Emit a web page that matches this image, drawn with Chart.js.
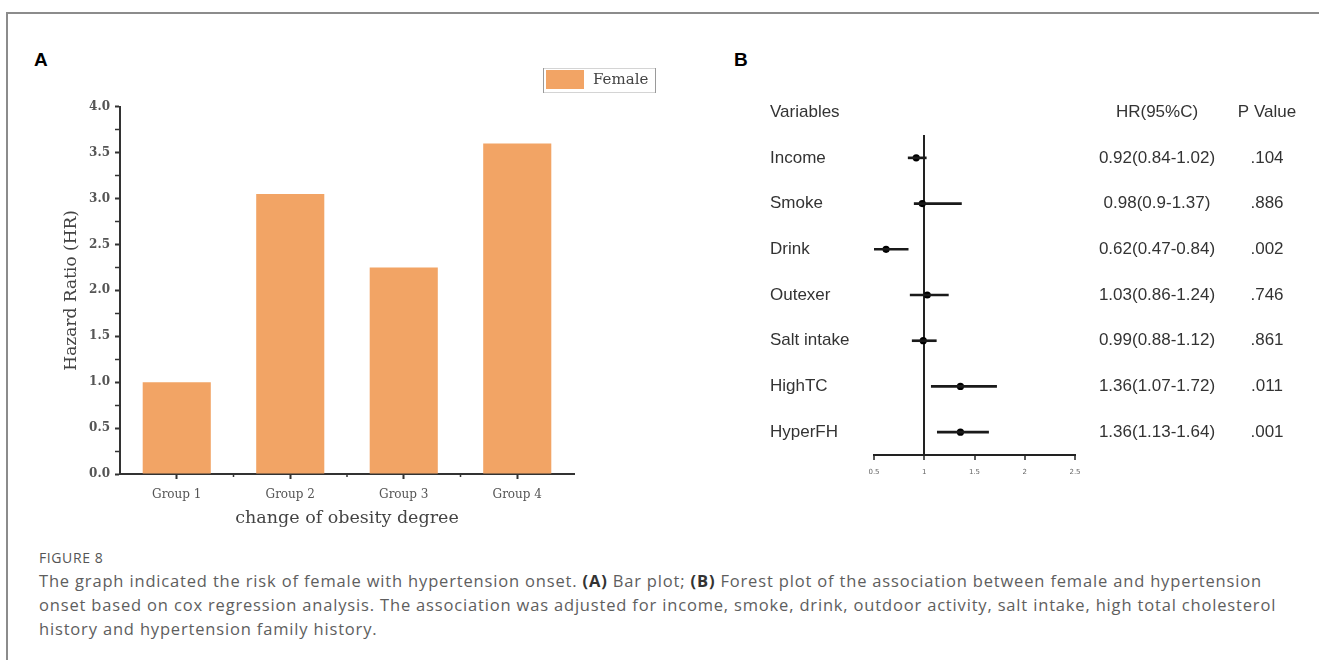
<!DOCTYPE html>
<html>
<head>
<meta charset="utf-8">
<script src="https://cdn.jsdelivr.net/npm/chart.js@4/dist/chart.umd.min.js"></script>
<style>
  html, body { margin: 0; padding: 0; background: #fff; }
  body { width: 1319px; height: 660px; position: relative; overflow: hidden; font-family: "Open Sans", "Noto Sans", sans-serif; }
  .frame { position: absolute; left: 6px; top: 12px; width: 1330px; height: 670px; border-left: 2px solid #8c8c8c; border-top: 2px solid #8c8c8c; }
  .tag { position: absolute; font: bold 19px "Liberation Sans", Arial, sans-serif; color: #000; line-height: 19px; }
  #barWrap { position: absolute; left: 0; top: 60px; width: 700px; height: 480px; }
  #forestWrap { position: absolute; left: 720px; top: 90px; width: 599px; height: 410px; }
  .fig { position: absolute; left: 39px; top: 548px; font-size: 14px; line-height: 20px; color: #555; letter-spacing: 0.6px; }
  .cap { position: absolute; left: 39px; font-size: 16.5px; line-height: 24px; color: #5e5e5e; white-space: nowrap; }
  .cap b { color: #333; }
</style>
</head>
<body>
<div class="frame"></div>
<div class="tag" style="left:34px; top:50px;">A</div>
<div class="tag" style="left:734px; top:50px;">B</div>

<div id="barWrap"><canvas id="barChart" width="700" height="480"></canvas></div>
<div id="forestWrap"><canvas id="forestChart" width="599" height="410"></canvas></div>

<div class="fig">FIGURE 8</div>
<div class="cap" id="cap1" style="top:569px;">The graph indicated the risk of female with hypertension onset. <b>(A)</b> Bar plot; <b>(B)</b> Forest plot of the association between female and hypertension</div>
<div class="cap" id="cap2" style="top:593px;">onset based on cox regression analysis. The association was adjusted for income, smoke, drink, outdoor activity, salt intake, high total cholesterol</div>
<div class="cap" id="cap3" style="top:617px;">history and hypertension family history.</div>

<script>
// ---- Panel A: hazard ratio by obesity-change group ----
const groups = ['Group 1', 'Group 2', 'Group 3', 'Group 4'];
const femaleHR = [1.0, 3.05, 2.25, 3.6];
const seriesName = 'Female';
const barColor = '#F2A465';

// ---- Panel B: Cox regression forest plot ----
const variables = ['Income', 'Smoke', 'Drink', 'Outexer', 'Salt intake', 'HighTC', 'HyperFH'];
const hr = [0.92, 0.98, 0.62, 1.03, 0.99, 1.36, 1.36];
const ciLow = [0.84, 0.9, 0.47, 0.86, 0.88, 1.07, 1.13];
const ciHigh = [1.02, 1.37, 0.84, 1.24, 1.12, 1.72, 1.64];
const pValues = ['.104', '.886', '.002', '.746', '.861', '.011', '.001'];
const columnHeaders = ['Variables', 'HR(95%C)', 'P Value'];

// caption: spread the letters so the first line fills the text column
(function fitCaption() {
  const first = document.getElementById('cap1');
  const target = 1223;
  const w = first.getBoundingClientRect().width;
  const n = first.textContent.length;
  const ls = Math.max(0, (target - w) / n);
  ['cap1', 'cap2', 'cap3'].forEach(id => { document.getElementById(id).style.letterSpacing = ls + 'px'; });
})();

const serif = '"DejaVu Serif", "Liberation Serif", serif';
const axisInk = '#333';

// small ticks between the category ticks on the x axis
const minorCategoryTicks = {
  id: 'minorCategoryTicks',
  afterDraw(chart) {
    const x = chart.scales.x, ctx = chart.ctx;
    const yAxis = chart.chartArea.bottom;
    ctx.save();
    ctx.strokeStyle = axisInk;
    ctx.lineWidth = 1.5;
    for (let i = 0; i < groups.length - 1; i++) {
      const px = (x.getPixelForValue(i) + x.getPixelForValue(i + 1)) / 2;
      ctx.beginPath();
      ctx.moveTo(px, yAxis);
      ctx.lineTo(px, yAxis + 3);
      ctx.stroke();
    }
    ctx.restore();
  }
};

// boxed legend in the upper right corner
const boxedLegend = {
  id: 'boxedLegend',
  afterDraw(chart) {
    const ctx = chart.ctx;
    const ds = chart.data.datasets[0];
    ctx.save();
    ctx.strokeStyle = '#d4d4d4';
    ctx.lineWidth = 1;
    ctx.strokeRect(543.5, 8.5, 112, 24);
    ctx.strokeStyle = '#9a9a9a';
    ctx.beginPath();
    ctx.moveTo(543.5, 8); ctx.lineTo(543.5, 33);
    ctx.moveTo(655.5, 8); ctx.lineTo(655.5, 33);
    ctx.stroke();
    ctx.fillStyle = ds.backgroundColor;
    ctx.fillRect(546, 10, 38, 19);
    ctx.fillStyle = '#444';
    ctx.font = '15px ' + serif;
    ctx.textBaseline = 'middle';
    ctx.fillText(ds.label, 593, 20);
    ctx.restore();
  }
};

new Chart(document.getElementById('barChart'), {
  type: 'bar',
  data: {
    labels: groups,
    datasets: [{
      label: seriesName,
      data: femaleHR,
      backgroundColor: barColor,
      borderWidth: 0,
      categoryPercentage: 1.0,
      barPercentage: 0.6
    }]
  },
  options: {
    responsive: false,
    animation: false,
    layout: { padding: { top: 46.7, right: 126, left: 0, bottom: 0 } },
    plugins: { legend: { display: false }, tooltip: { enabled: false } },
    scales: {
      x: {
        type: 'category',
        afterFit(s) { s.height = 66; },
        grid: { offset: false, drawOnChartArea: false, drawTicks: true, tickLength: 5, tickColor: axisInk, tickWidth: 2 },
        border: { display: true, color: axisInk, width: 2 },
        ticks: { font: { family: serif, size: 12 }, color: '#555', padding: 9 },
        title: { display: true, text: 'change of obesity degree', font: { family: serif, size: 17.5 }, color: '#444', padding: { top: 0, bottom: 11 } }
      },
      y: {
        min: 0, max: 4,
        afterFit(s) { s.width = 120; },
        grid: {
          drawOnChartArea: false, drawTicks: true, tickLength: 5, tickColor: axisInk,
          tickWidth: (c) => (c.tick && Math.abs(c.tick.value * 2 - Math.round(c.tick.value * 2)) < 1e-6) ? 2 : 1.5
        },
        border: { display: true, color: axisInk, width: 2 },
        ticks: {
          stepSize: 0.25, autoSkip: false, padding: 5,
          font: { family: serif, size: 12, weight: 'bold' }, color: '#555',
          callback: (v) => Math.abs(v * 2 - Math.round(v * 2)) < 1e-6 ? Number(v).toFixed(1) : ''
        },
        title: { display: true, text: 'Hazard Ratio (HR)', font: { family: serif, size: 17 }, color: '#444', padding: { top: 61, bottom: 0 } }
      }
    }
  },
  plugins: [minorCategoryTicks, boxedLegend]
});

// text columns of the forest plot, aligned to the row positions
const forestTable = {
  id: 'forestTable',
  afterDraw(chart) {
    const ctx = chart.ctx, y = chart.scales.y;
    const rowY = (i) => y.getPixelForValue(i);
    const step = rowY(1) - rowY(0);
    const colVar = 50, colHR = 437, colP = 547;
    ctx.save();
    ctx.font = '17px "Liberation Sans", Arial, sans-serif';
    ctx.fillStyle = '#333';
    ctx.textBaseline = 'middle';
    const headY = rowY(0) - step;
    ctx.textAlign = 'left';  ctx.fillText(columnHeaders[0], colVar, headY);
    ctx.textAlign = 'center'; ctx.fillText(columnHeaders[1], colHR, headY);
    ctx.fillText(columnHeaders[2], colP, headY);
    variables.forEach((name, i) => {
      const yy = rowY(i);
      ctx.textAlign = 'left';
      ctx.fillText(name, colVar, yy);
      ctx.textAlign = 'center';
      ctx.fillText(`${hr[i]}(${ciLow[i]}-${ciHigh[i]})`, colHR, yy);
      ctx.fillText(pValues[i], colP, yy);
    });
    ctx.restore();
  }
};

new Chart(document.getElementById('forestChart'), {
  type: 'bar',
  data: {
    labels: variables,
    datasets: [
      {
        type: 'bar',
        data: ciLow.map((lo, i) => [lo, ciHigh[i]]),
        backgroundColor: '#1a1a1a',
        borderWidth: 0,
        barThickness: 2
      },
      {
        type: 'scatter',
        data: hr.map((v, i) => ({ x: v, y: variables[i] })),
        pointRadius: 3.6,
        pointBackgroundColor: '#000',
        pointBorderWidth: 0,
        showLine: false
      }
    ]
  },
  options: {
    indexAxis: 'y',
    responsive: false,
    animation: false,
    layout: { padding: { left: 154, right: 244, top: 45, bottom: 0 } },
    plugins: { legend: { display: false }, tooltip: { enabled: false } },
    scales: {
      x: {
        type: 'linear', position: 'bottom', min: 0.5, max: 2.5,
        afterFit(s) { s.height = 45; },
        grid: {
          color: (c) => (c.tick && c.tick.value === 1) ? '#222' : 'rgba(0,0,0,0)',
          lineWidth: 2, drawTicks: true, tickLength: 5, tickColor: '#222', tickWidth: 1.5
        },
        border: { display: true, color: '#222', width: 2 },
        ticks: {
          stepSize: 0.5, font: { family: '"DejaVu Sans", sans-serif', size: 7 }, color: '#666', padding: 8,
          callback: (v) => String(v)
        }
      },
      y: { type: 'category', display: false, offset: true }
    }
  },
  plugins: [forestTable]
});
</script>
</body>
</html>
